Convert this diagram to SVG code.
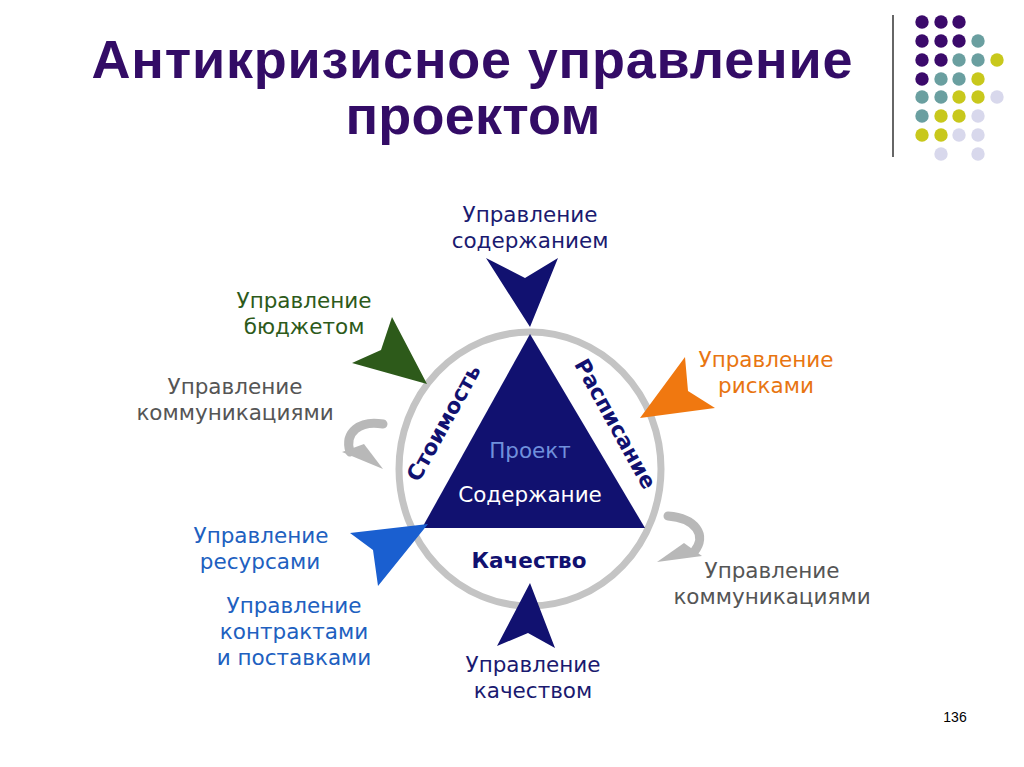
<svg xmlns="http://www.w3.org/2000/svg" width="1024" height="767" viewBox="0 0 1024 767">
<style>
.t{font-family:"DejaVu Sans","Liberation Sans",sans-serif;font-size:21.5px;text-anchor:middle}
.title{font-family:"Liberation Sans",Arial,sans-serif;font-weight:bold;font-size:54px;fill:#330c66;text-anchor:middle}
.pu{fill:#3b0a6b}.te{fill:#6a9fa0}.ye{fill:#c8c81c}.la{fill:#d8d8ec}
</style>
<rect width="1024" height="767" fill="#fff"/>
<g id="title">
<text class="title" x="472" y="78" textLength="761" lengthAdjust="spacing">Антикризисное управление</text>
<text class="title" x="473" y="134" textLength="255" lengthAdjust="spacing">проектом</text>
</g>
<g id="decor">
<line x1="893" y1="15" x2="893" y2="157" stroke="#666" stroke-width="2"/>
<g>
<circle class="pu" cx="922" cy="22" r="6.7"/><circle class="pu" cx="941" cy="22" r="6.7"/><circle class="pu" cx="959" cy="22" r="6.7"/>
<circle class="pu" cx="922" cy="41" r="6.7"/><circle class="pu" cx="941" cy="41" r="6.7"/><circle class="pu" cx="959" cy="41" r="6.7"/><circle class="te" cx="978" cy="41" r="6.7"/>
<circle class="pu" cx="922" cy="60" r="6.7"/><circle class="pu" cx="941" cy="60" r="6.7"/><circle class="te" cx="959" cy="60" r="6.7"/><circle class="te" cx="978" cy="60" r="6.7"/><circle class="ye" cx="997" cy="60" r="6.7"/>
<circle class="pu" cx="922" cy="79" r="6.7"/><circle class="te" cx="941" cy="79" r="6.7"/><circle class="te" cx="959" cy="79" r="6.7"/><circle class="ye" cx="978" cy="79" r="6.7"/>
<circle class="te" cx="922" cy="97" r="6.7"/><circle class="te" cx="941" cy="97" r="6.7"/><circle class="ye" cx="959" cy="97" r="6.7"/><circle class="ye" cx="978" cy="97" r="6.7"/><circle class="la" cx="997" cy="97" r="6.7"/>
<circle class="te" cx="922" cy="116" r="6.7"/><circle class="ye" cx="941" cy="116" r="6.7"/><circle class="ye" cx="959" cy="116" r="6.7"/><circle class="la" cx="978" cy="116" r="6.7"/>
<circle class="ye" cx="922" cy="135" r="6.7"/><circle class="ye" cx="941" cy="135" r="6.7"/><circle class="la" cx="959" cy="135" r="6.7"/><circle class="la" cx="978" cy="135" r="6.7"/>
<circle class="la" cx="941" cy="154" r="6.7"/><circle class="la" cx="978" cy="154" r="6.7"/>
</g>
</g>
<g id="ring">
<ellipse cx="530" cy="469" rx="131" ry="137" fill="none" stroke="#c4c4c4" stroke-width="7"/>
</g>
<g id="project">
<polygon points="530,334 422,528 645,528" fill="#111170"/>
<text class="t" x="530" y="458" fill="#7090dc" font-size="19.5">Проект</text>
<text class="t" x="530" y="502" fill="#fff" font-size="21.5">Содержание</text>
<text class="t" x="529" y="568" fill="#111170" font-weight="bold" font-size="20">Качество</text>
<text class="t" transform="translate(444,423) rotate(-61)" y="7" fill="#111170" font-weight="bold" font-size="19">Стоимость</text>
<text class="t" transform="translate(615,424) rotate(61)" y="7" fill="#111170" font-weight="bold" font-size="19">Расписание</text>
</g>
<g id="connectors">
<polygon points="486,258 525,278 558,258 530,327" fill="#111170"/>
<polygon points="392,317 381,350 352,363 427,384" fill="#2d5a1a"/>
<polygon points="685,357 688,391 715,408 640,418" fill="#f07810"/>
<polygon points="350,533 373,550 378,586 428,524" fill="#1a5fd0"/>
<polygon points="530,583 497,646 528,633 555,648" fill="#111170"/>
<path d="M383,424 C360,420 344,432 350,452" fill="none" stroke="#b8b8b8" stroke-width="9" stroke-linecap="round"/>
<polygon points="342,452 364,444 383,469" fill="#b8b8b8"/>
<path d="M668,516 C695,518 708,535 694,552" fill="none" stroke="#b8b8b8" stroke-width="9" stroke-linecap="round"/>
<polygon points="684,543 702,556 657,562" fill="#b8b8b8"/>
</g>
<g id="n-content"><text class="t" x="530" y="222" fill="#1a1a70">Управление</text><text class="t" x="530" y="248" fill="#1a1a70">содержанием</text></g>
<g id="n-budget"><text class="t" x="304" y="308" fill="#2d5a1a">Управление</text><text class="t" x="304" y="334" fill="#2d5a1a">бюджетом</text></g>
<g id="n-comm1"><text class="t" x="235" y="394" fill="#555">Управление</text><text class="t" x="235" y="420" fill="#555">коммуникациями</text></g>
<g id="n-risk"><text class="t" x="766" y="367" fill="#e87511">Управление</text><text class="t" x="766" y="393" fill="#e87511">рисками</text></g>
<g id="n-res"><text class="t" x="261" y="543" fill="#2060c0">Управление</text><text class="t" x="260" y="569" fill="#2060c0">ресурсами</text></g>
<g id="n-contr"><text class="t" x="294" y="613" fill="#2060c0">Управление</text><text class="t" x="294" y="639" fill="#2060c0">контрактами</text><text class="t" x="294" y="665" fill="#2060c0">и поставками</text></g>
<g id="n-comm2"><text class="t" x="772" y="578" fill="#555">Управление</text><text class="t" x="772" y="604" fill="#555">коммуникациями</text></g>
<g id="n-quality"><text class="t" x="533" y="672" fill="#1a1a70">Управление</text><text class="t" x="533" y="698" fill="#1a1a70">качеством</text></g>
<text x="955" y="722" font-family="Liberation Sans,Arial,sans-serif" font-size="14" text-anchor="middle" fill="#000">136</text>
</svg>
